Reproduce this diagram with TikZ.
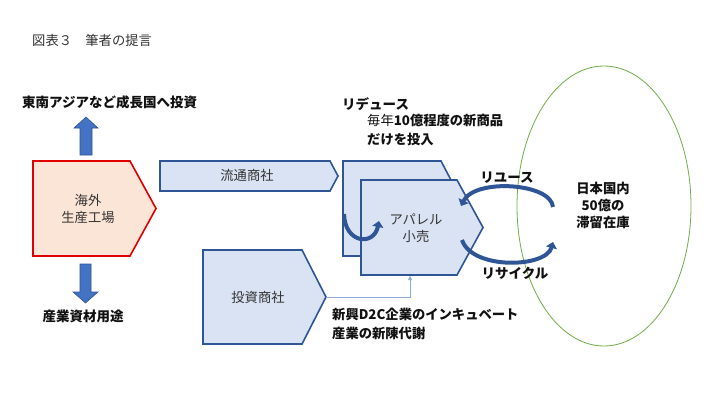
\documentclass[tikz,border=0pt]{standalone}
\usepackage{fontspec}
\setmainfont{Noto Sans CJK JP}
\usetikzlibrary{arrows.meta}
\definecolor{boxfill}{HTML}{DAE3F3}
\definecolor{boxline}{HTML}{2F5597}
\definecolor{pinkfill}{HTML}{FBE5D6}
\definecolor{redline}{HTML}{E00000}
\definecolor{arrowfill}{HTML}{4472C4}
\definecolor{thinline}{HTML}{8FAADC}
\definecolor{ellgreen}{HTML}{70AD47}
\definecolor{txt}{HTML}{111111}
\definecolor{boxtxt}{HTML}{333333}
\tikzset{
  flowbox/.style={draw=boxline, fill=boxfill, line width=1.6pt, line join=miter},
  factorybox/.style={draw=redline, fill=pinkfill, line width=1.6pt, line join=miter},
  blockarrow/.style={draw=boxline, fill=arrowfill, line width=0.6pt},
  boxlabel/.style={text=boxtxt, font=\fontsize{13.3}{17}\selectfont, align=center, inner sep=0pt},
  boldlabel/.style={text=txt, font=\fontsize{13.5}{19}\selectfont\bfseries, inner sep=0pt},
  curvearrow/.style={draw=boxline, line width=4pt, -{Triangle[width=11pt,length=6pt]}},
}
\begin{document}
\begin{tikzpicture}[x=1pt,y=-1pt]
\useasboundingbox (0,0) rectangle (720,405);
% title
\node[text=boxtxt, font=\fontsize{13.3}{15}\selectfont, anchor=west, inner sep=0pt] (title) at (32,40) {図表３　筆者の提言};
% up arrow
\draw[blockarrow] (80,155) -- (80,128) -- (74,128) -- (86,117) -- (98,128) -- (92,128) -- (92,155) -- cycle;
\node[boldlabel, anchor=west] (invest) at (22,102) {東南アジアなど成長国へ投資};
% down arrow
\draw[blockarrow] (80,264) -- (80,292) -- (73,292) -- (85.5,303) -- (98,292) -- (91,292) -- (91,264) -- cycle;
\node[boldlabel] (industry) at (83,316) {産業資材用途};
% factory
\draw[factorybox] (33,161) -- (130,161) -- (156,208.5) -- (130,256) -- (33,256) -- cycle;
\node[boxlabel] (factory) at (88,208.5) {海外\\生産工場};
% distribution
\draw[flowbox] (160,161) -- (330,161) -- (338,176) -- (330,191) -- (160,191) -- cycle;
\node[boxlabel] (dist) at (247,175) {流通商社};
% investment trading
\draw[flowbox] (203,250) -- (302,250) -- (326,297) -- (302,344) -- (203,344) -- cycle;
\node[boxlabel] (invco) at (258,297) {投資商社};
\coordinate (invtip) at (326,297);
% apparel back and front
\draw[flowbox] (343,161) -- (441,161) -- (466,208.5) -- (441,256) -- (343,256) -- cycle;
\draw[flowbox] (361,180) -- (457,180) -- (483,227.5) -- (457,275) -- (361,275) -- cycle;
\node[boxlabel] (apparel) at (416,228) {アパレル\\小売};
\coordinate (appbottom) at (410,276);
% thin connector
\draw[thinline, line width=1pt, -{Triangle[width=4pt,length=4pt]}] (invtip) -| (appbottom);
% U-turn arrow
\draw[curvearrow] (344,214) .. controls (345,244) and (374,246) .. (379,221);
% ellipse
\draw[ellgreen, line width=0.8pt] (604,206) ellipse [x radius=87, y radius=140];
\node[boldlabel, align=center, font=\fontsize{13.3}{17}\selectfont\bfseries] (stock) at (603,205) {日本国内\\50億の\\滞留在庫};
% reuse / recycle arcs
\draw[curvearrow] (553,207) .. controls (551,183) and (475,178) .. (461,206);
\draw[curvearrow] (462,240) .. controls (472,270) and (546,268) .. (553,242);
\node[boldlabel] (reuse) at (507,178) {リユース};
\node[boldlabel] (recycle) at (515,273) {リサイクル};
% reduce texts
\node[boldlabel, anchor=west] (reduce) at (342,104) {リデュース};
\node[text=txt, font=\fontsize{13.3}{19}\selectfont, anchor=north west, align=left, inner sep=0pt] (reducetxt) at (367,114) {毎年\textbf{10億程度の新商品}\\\textbf{だけを投入}};
% D2C texts
\node[text=txt, font=\fontsize{13.3}{19}\selectfont\bfseries, anchor=north west, align=left, inner sep=0pt] (d2c) at (332,308) {新興D2C企業のインキュベート\\産業の新陳代謝};
\end{tikzpicture}
\end{document}
